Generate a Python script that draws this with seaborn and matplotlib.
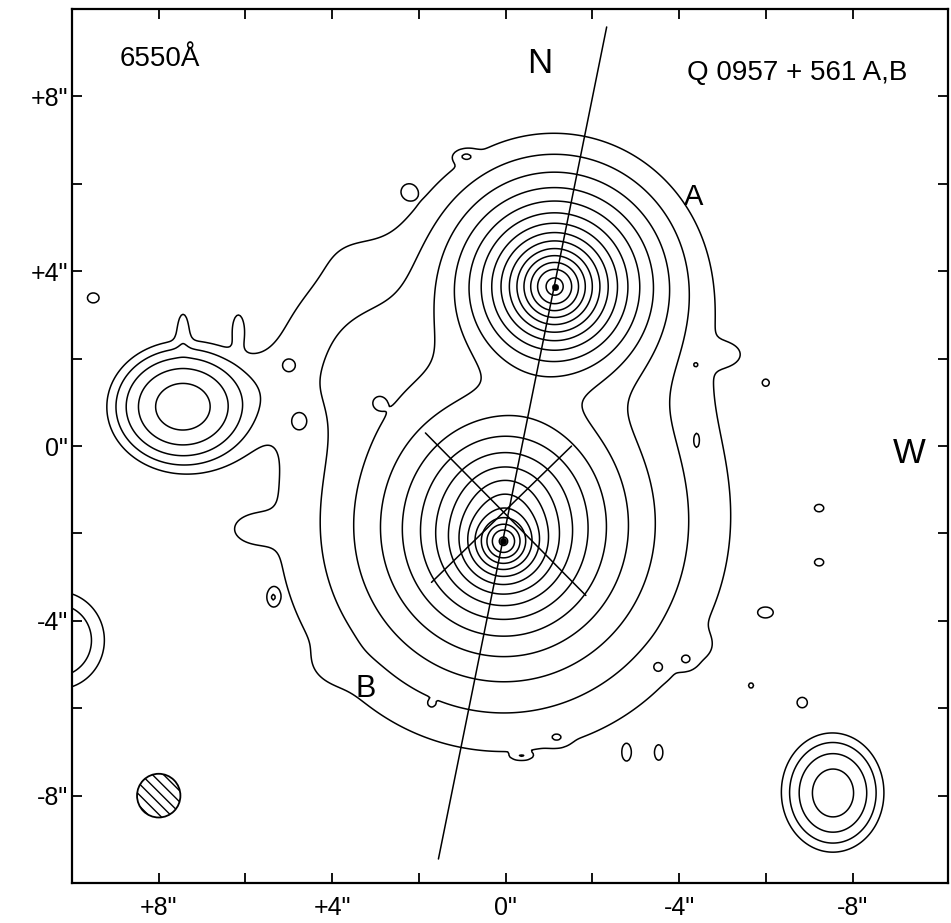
#%%
import numpy as np
import matplotlib
matplotlib.use("Agg")
import matplotlib.pyplot as plt
from matplotlib.patches import Circle
import seaborn as sns

#%%
# offsets in arcsec, x positive to the east (left on the plot)
quasar_x = [-1.13, 0.05]          # A, B
quasar_y = [3.65, -2.18]
quasar_peak = [10900, 18900]
quasar_core = [0.58, 0.35]
quasar_beta = [2.6, 2.0]

# lensing galaxy G1 (the cross)
lens_x = [0.0]
lens_y = [-1.45]
lens_peak = [450]
lens_core = [0.9]
lens_beta = [2.0]

# cluster halo and neighbouring galaxies (gaussian)
gal_x = [0.2, 7.45, -7.55, 10.35, 3.4, 3.8, 5.6, 7.44, 6.17]
gal_y = [-1.5, 0.9, -7.94, -4.45, 2.2, 4.6, 1.3, 2.7, 2.7]
gal_peak = [0.5, 24, 12, 4.5, 1.3, 0.3, 0.6, 1.2, 1.0]
gal_sx = [4.2, 0.68, 0.52, 0.61, 1.3, 0.8, 0.8, 0.12, 0.12]
gal_sy = [3.8, 0.58, 0.60, 0.63, 1.3, 0.6, 0.6, 0.35, 0.30]

# faint knots and ragged bits of the outer isophotes
knot_x = [9.51, 0.92, 2.24, -6.0, -7.23, -7.23, -6.0, -6.84, -5.66, -1.18,
          -2.79, -3.53, -0.37, 5.01, 4.78, 5.36, 2.93, -3.53, -4.16, -4.39,
          -4.41, 1.71, 5.9, -5.1, -4.3, 3.9]
knot_y = [3.39, 6.63, 5.83, 1.45, -1.42, -2.66, -3.81, -5.87, -5.48, -6.67,
          -7.02, -7.02, -7.09, 1.86, 0.55, -3.46, 0.99, -5.07, -4.9, 1.86,
          0.14, -5.89, -1.9, 2.1, -4.6, -5.0]
knot_peak = [1.6, 1.3, 1.1, 1.3, 1.4, 1.4, 1.3, 1.4, 1.2, 1.1,
             1.3, 1.3, 1.2, 1.2, 1.2, 1.4, 1.5, 1.0, 1.0, 1.0,
             1.0, 1.1, 0.6, 0.6, 0.5, 0.4]
knot_sx = [0.13, 0.17, 0.12, 0.06, 0.09, 0.09, 0.13, 0.11, 0.05, 0.15,
           0.07, 0.07, 0.12, 0.11, 0.13, 0.08, 0.12, 0.12, 0.14, 0.05,
           0.06, 0.05, 0.45, 0.30, 0.35, 0.40]
knot_sy = [0.11, 0.10, 0.12, 0.06, 0.07, 0.07, 0.09, 0.11, 0.05, 0.10,
           0.13, 0.13, 0.05, 0.11, 0.15, 0.12, 0.12, 0.12, 0.12, 0.05,
           0.15, 0.05, 0.30, 0.20, 0.25, 0.30]

levels = [1, 2, 4, 8, 16, 32, 64, 128, 256, 512, 1024, 2048, 4096, 8192,
          16384, 32768]

north_x = [-2.33, 1.55]
north_y = [9.59, -9.45]
cross_x = [[1.85, -1.85], [-1.52, 1.71]]
cross_y = [[0.30, -3.42], [0.00, -3.12]]

tick_pos = [8, 6, 4, 2, 0, -2, -4, -6, -8]
xtick_text = ['+8"', '', '+4"', '', '0"', '', '-4"', '', '-8"']
ytick_text = ['+8"', '', '+4"', '', '0"', '', '-4"', '', '-8"']

#%%
# build the intensity map
gx = np.linspace(10.4, -10.6, 526)
gy = np.linspace(-10.4, 10.4, 521)
X, Y = np.meshgrid(gx, gy)
Z = np.zeros_like(X)

for x0, y0, p, a, b in zip(quasar_x + lens_x, quasar_y + lens_y,
                           quasar_peak + lens_peak, quasar_core + lens_core,
                           quasar_beta + lens_beta):
    r2 = (X - x0) ** 2 + (Y - y0) ** 2
    Z += p * (1 + r2 / a ** 2) ** (-b)

for x0, y0, p, sx, sy in zip(gal_x + knot_x, gal_y + knot_y,
                             gal_peak + knot_peak, gal_sx + knot_sx,
                             gal_sy + knot_sy):
    Z += p * np.exp(-0.5 * (((X - x0) / sx) ** 2 + ((Y - y0) / sy) ** 2))

#%%
sns.set_theme(style="ticks")
plt.rcParams['font.family'] = ['Liberation Sans', 'DejaVu Sans']
plt.rcParams['hatch.linewidth'] = 1.0

fig = plt.figure(figsize=(9.51, 9.23), dpi=100)
ax = fig.add_axes([0.0757, 0.0433, 0.9211, 0.9469])

ax.contour(X, Y, Z, levels=levels, colors="black", linewidths=1.1)

# north line through A and B, and the cross on the lens galaxy
sns.lineplot(x=north_x, y=north_y, color="black", linewidth=1.1,
             sort=False, estimator=None, ax=ax)
for cx, cy in zip(cross_x, cross_y):
    ax.plot(cx, cy, color="black", linewidth=1.1)

sns.scatterplot(x=quasar_x, y=quasar_y, color="black", s=22,
                edgecolor="black", ax=ax, zorder=5)

# seeing disk
ax.add_patch(Circle((8, -8), 0.5, facecolor="white", edgecolor="black",
                    hatch="\\\\\\", linewidth=1.3))

ax.text(7.97, 8.85, "6550Å", fontsize=20, ha="center", va="center", color="black")
ax.text(-0.79, 8.76, "N", fontsize=25, ha="center", va="center", color="black")
ax.text(-6.72, 8.53, "Q 0957 + 561 A,B", fontsize=20, ha="center", va="center",
        color="black")
ax.text(-4.34, 5.69, "A", fontsize=21, ha="center", va="center", color="black")
ax.text(3.23, -5.55, "B", fontsize=22, ha="center", va="center", color="black")
ax.text(-9.31, -0.16, "W", fontsize=25, ha="center", va="center", color="black")

ax.set_xlim(10, -10.2)
ax.set_ylim(-10, 10)
ax.set_xticks(tick_pos)
ax.set_xticklabels(xtick_text)
ax.set_yticks(tick_pos)
ax.set_yticklabels(ytick_text)
ax.tick_params(direction="in", length=7, width=1.3, top=True, right=True,
               labelsize=18, colors="black")
ax.tick_params(axis="x", pad=9)
ax.tick_params(axis="y", pad=3)
for s in ax.spines.values():
    s.set_linewidth(1.6)
    s.set_color("black")
ax.set_xlabel("")
ax.set_ylabel("")

fig.savefig("out.png", dpi=100, facecolor="white")
